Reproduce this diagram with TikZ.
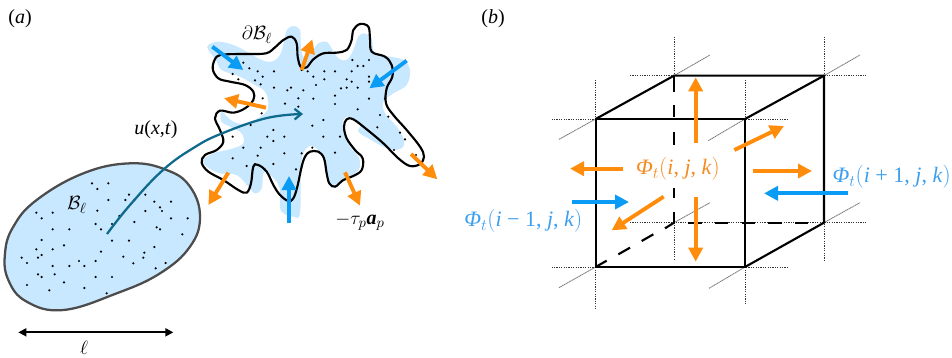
\documentclass[tikz,border=0pt]{standalone}
\usepackage{fontspec}
\setmainfont{Liberation Serif}
\usetikzlibrary{arrows.meta}
\definecolor{blobfill}{HTML}{C8E8FF}
\definecolor{flowblue}{HTML}{0A9BF5}
\definecolor{floworange}{HTML}{FF8C0A}
\definecolor{tealcurve}{HTML}{0F6A8C}
\definecolor{labelblue}{HTML}{3D9FEF}
\definecolor{labelorange}{HTML}{F58A1F}
\tikzset{
  bigarrow/.style={line width=2.9pt,-{Triangle[length=10.5pt,width=10.5pt]}},
  orangearrow/.style={bigarrow,draw=floworange,color=floworange},
  bluearrow/.style={bigarrow,draw=flowblue,color=flowblue},
  cubeline/.style={line width=1.6pt,black},
  griddot/.style={line width=0.6pt,black!80,dash pattern=on 0.9pt off 0.9pt},
  griddiag/.style={line width=0.6pt,black!55,dash pattern=on 1pt off 0.4pt},
  lab/.style={inner sep=0pt,font=\fontsize{15}{17}\selectfont},
  flowlab/.style={inner sep=0pt,font=\fontsize{16.5}{18}\selectfont},
  speck/.style={fill=black}
}
\begin{document}
\begin{tikzpicture}[x=0.75pt,y=-0.75pt]
\useasboundingbox (0,0) rectangle (952,357);
\fill[white] (0,0) rectangle (952,357);
% ---- lower body
\begin{scope}[shift={(0,130)},x=0.25pt,y=-0.25pt]
\draw[fill=blobfill,draw=black!70,line width=1.7pt] plot[smooth cycle,tension=0.7] coordinates {(15,370)(40,290)(110,210)(250,130)(390,100)(500,120)(570,170)(600,260)(570,350)(480,430)(350,490)(190,540)(80,515)(25,450)};
\foreach \p in {(276,160),(325,160),(292,177),(387,194),(436,194),(325,210),(376,210),(403,210),(463,215),(513,215),(480,232),(486,243),(292,242),(436,243),(109,248),(158,248),(125,265),(358,258),(513,265),(563,265),(403,276),(287,282),(336,282),(470,292),(480,298),(158,298),(208,298),(303,298),(547,313),(125,330),(336,332),(387,332),(192,346),(463,351),(109,358),(158,358),(303,365),(433,368),(125,375),(114,383),(65,383),(370,380),(430,383),(237,393),(287,393),(81,399),(400,400),(497,399),(158,408),(208,408),(253,408),(467,415),(114,433),(125,441),(164,433),(287,441),(336,441),(192,457),(81,465),(253,474),(148,481),(320,490)}
  \fill[speck] \p circle (0.9pt);
\draw[{Triangle[length=6pt,width=6pt]}-{Triangle[length=6pt,width=6pt]},line width=1.3pt] (55,607) -- (520,607);
\end{scope}
% ---- deformed body
\begin{scope}[shift={(190,10)},x=0.25pt,y=-0.25pt]
\fill[blobfill] plot[smooth cycle,tension=0.6] coordinates {(55,105)(85,95)(130,105)(170,125)(215,150)(245,155)(270,135)(283,90)(290,60)(310,48)(330,60)(332,100)(340,140)(365,125)(385,100)(410,95)(425,115)(445,145)(470,150)(490,120)(505,80)(525,70)(545,90)(555,130)(600,140)(640,150)(660,180)(650,225)(610,250)(580,275)(585,310)(620,350)(640,385)(640,410)(615,420)(580,410)(535,385)(505,365)(510,345)(480,320)(460,330)(460,365)(480,410)(505,440)(510,470)(490,495)(450,515)(430,525)(415,505)(405,455)(385,420)(360,408)(340,430)(332,480)(330,610)(310,620)(280,610)(270,590)(268,530)(235,490)(220,490)(215,535)(195,550)(175,530)(140,495)(90,490)(50,470)(40,450)(70,430)(130,415)(160,400)(155,370)(120,350)(95,335)(95,305)(130,335)(170,340)(225,310)(235,280)(225,245)(195,225)(150,200)(95,180)(78,150)(55,120)};
\foreach \p in {(160,158),(178,175),(203,184),(252,184),(128,192),(218,200),(145,208),(195,211),(212,223),(252,233),(303,233),(292,241),(340,241),(378,225),(353,184),(403,184),(435,184),(485,184),(370,200),(403,208),(470,208),(485,215),(453,235),(470,233),(503,233),(435,257),(370,266),(325,265),(285,281),(218,265),(435,282),(537,200),(537,215),(585,266),(537,266),(503,298),(325,290),(215,310),(570,315),(595,320),(400,330),(182,345),(367,347),(562,352),(630,368),(250,360),(232,380),(283,380),(400,380),(450,380),(128,380),(250,393),(645,388),(160,413),(212,413),(367,413),(283,430),(335,430),(435,428),(612,420),(128,445),(203,437),(678,435),(195,462),(170,468),(250,462),(318,478),(487,150),(503,168),(520,168),(537,150),(335,180)}
  \fill[speck] \p circle (0.9pt);
\draw[line width=1.6pt,black] plot[smooth cycle,tension=0.6] coordinates {(80,140)(110,133)(170,132)(228,130)(255,112)(280,90)(305,80)(320,100)(323,140)(332,170)(350,172)(370,148)(400,130)(440,128)(470,120)(485,90)(490,60)(510,42)(535,50)(540,85)(545,125)(585,140)(605,165)(607,200)(590,235)(588,280)(610,315)(650,360)(690,410)(702,440)(690,462)(660,468)(625,445)(580,400)(530,358)(490,328)(470,328)(462,350)(470,385)(495,420)(518,445)(515,480)(490,498)(460,510)(435,530)(418,520)(410,490)(402,445)(385,425)(360,425)(345,440)(335,470)(322,530)(310,565)(295,573)(270,555)(250,525)(230,485)(205,465)(190,470)(183,520)(170,548)(145,540)(100,510)(55,485)(35,458)(45,435)(80,420)(100,395)(90,360)(75,325)(90,302)(130,308)(165,295)(190,270)(190,245)(165,225)(120,215)(85,205)(68,175)};
\draw[bluearrow] (67,110) -- (160,180);
\draw[bluearrow] (650,152) -- (538,235);
\draw[bluearrow] (297,640) -- (297,498);
\draw[orangearrow] (335,180) -- (367,88);
\draw[orangearrow] (228,293) -- (102,265);
\draw[orangearrow] (115,488) -- (55,585);
\draw[orangearrow] (465,487) -- (510,587);
\draw[orangearrow] (663,432) -- (742,508);
\end{scope}
% ---- material curve
\draw[tealcurve,line width=1.7pt,-{Straight Barb[length=5pt,width=8pt]}] plot[smooth,tension=0.7] coordinates {(107,234)(130,205)(163,170)(195,147)(223,133)(267,118)(303,114)};
% ---- cube
\begin{scope}[shift={(540,20)},x=0.25pt,y=-0.25pt]
\foreach \a/\b in {{(167,180)}/{(167,865)},{(615,180)}/{(615,855)},{(402,50)}/{(402,167)},{(852,50)}/{(852,722)},{(402,608)}/{(402,720)},{(35,297)}/{(745,297)},{(35,741)}/{(745,741)},{(270,167)}/{(980,167)},{(270,608)}/{(980,608)}}
  \draw[griddot] \a -- \b;
\foreach \a/\b in {{(57,358)}/{(167,297)},{(505,362)}/{(615,297)},{(402,167)}/{(510,105)},{(852,167)}/{(960,105)},{(852,608)}/{(960,548)},{(402,608)}/{(510,548)},{(57,803)}/{(167,741)},{(507,805)}/{(615,741)}}
  \draw[griddiag] \a -- \b;
\foreach \a/\b in {167/215,255/292,335/375,505/535,575/608}
  \draw[cubeline] (402,\a) -- (402,\b);
\foreach \a/\b in {445/485,525/565,605/645,685/725,765/805}
  \draw[cubeline] (\a,608) -- (\b,608);
\foreach \a/\b in {{(167,741)}/{(200,722)},{(235,703)}/{(270,683)},{(305,663)}/{(340,643)},{(375,625)}/{(402,608)}}
  \draw[cubeline] \a -- \b;
\draw[cubeline] (167,297) rectangle (615,741);
\draw[cubeline] (167,297) -- (402,167) -- (852,167) -- (852,608) -- (615,741);
\draw[cubeline] (615,297) -- (852,167);
\draw[orangearrow] (467,368) -- (467,172);
\draw[orangearrow] (467,530) -- (467,725);
\draw[orangearrow] (250,446) -- (90,446);
\draw[orangearrow] (638,453) -- (816,453);
\draw[orangearrow] (583,390) -- (732,318);
\draw[orangearrow] (371,530) -- (215,631);
\draw[bluearrow] (96,546) -- (267,546);
\draw[bluearrow] (925,520) -- (672,520);
\end{scope}
% ---- labels
\node[lab] (pa) at (20,19) {(\textit{a})};
\node[lab] (pb) at (493,19) {(\textit{b})};
\node[lab] (bdry) at (257,35) {$\partial\mathcal{B}_\ell$};
\node[lab] (vel) at (156,130) {\textit{u}(\textit{x},\textit{t})};
\node[lab] (body) at (77,205) {$\mathcal{B}_\ell$};
\node[lab] (len) at (84,348) {$\ell$};
\node[lab] (acc) at (360,222) {$-\tau_p$\textbf{\textit{a}}$_p$};
\node[flowlab,text=labelorange] (phi) at (678,169) {\textit{Φ}$_t\big($\textit{i}, \textit{j}, \textit{k}$\big)$};
\node[flowlab,text=labelblue,anchor=east] (phip) at (951,177) {\textit{Φ}$_t\big($\textit{i} + 1, \textit{j}, \textit{k}$\big)$};
\node[flowlab,text=labelblue,anchor=west] (phim) at (464,221) {\textit{Φ}$_t\big($\textit{i} − 1, \textit{j}, \textit{k}$\big)$};
\end{tikzpicture}
\end{document}
